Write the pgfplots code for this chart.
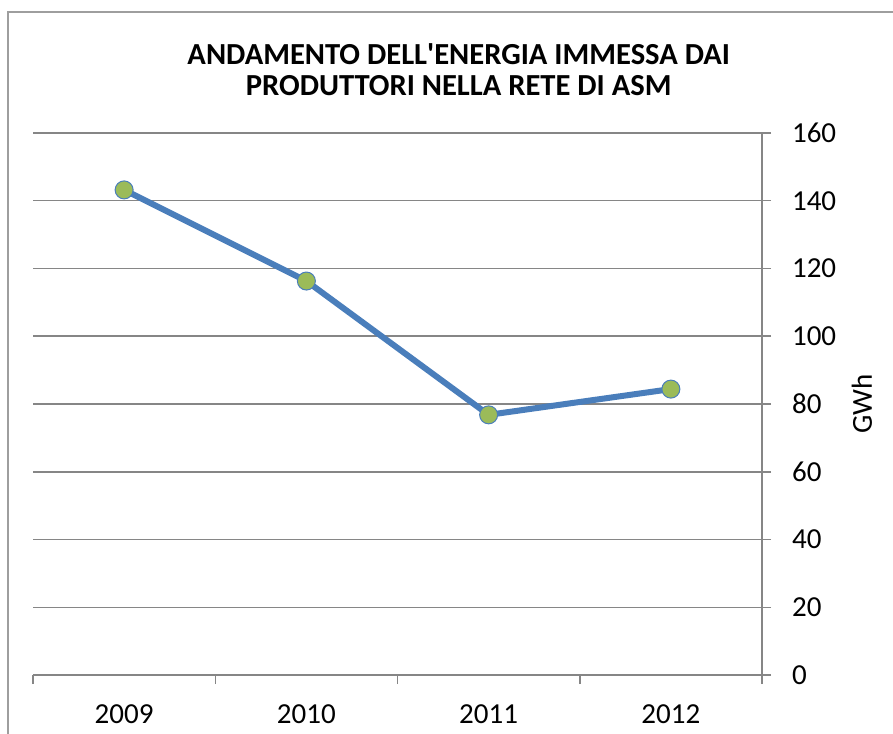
\documentclass[border=0pt]{standalone}
\usepackage{pgfplots}
\pgfplotsset{compat=1.18}
\usepackage{fontspec}
\setmainfont{Carlito}
\definecolor{lineblue}{HTML}{4A7EBB}
\definecolor{dotgreen}{HTML}{9BBB59}
\definecolor{gridgray}{HTML}{868686}
\begin{document}
\begin{tikzpicture}[x=0.5pt,y=0.5pt]
  \clip (0,0) rectangle (893,733);
  \draw[gridgray!80, line width=0.6pt] (8,-20) rectangle (920,721);
  \begin{axis}[
      at={(16.5pt,29pt)}, anchor=south west,
      scale only axis,
      width=364.5pt, height=271pt,
      xmin=-0.5, xmax=3.5,
      ymin=0, ymax=160,
      ytick={0,20,...,160},
      xtick={-0.5,0.5,1.5,2.5,3.5},
      xticklabels={2009,2010,2011,2012},
      x tick label as interval,
      axis x line*=bottom,
      axis y line*=right,
      axis line style={gridgray, line width=0.75pt},
      tick align=outside,
      major tick length=4.5pt,
      tick style={gridgray, line width=0.75pt},
      ymajorgrids=true,
      grid style={gridgray, line width=0.75pt},
      /pgf/number format/assume math mode=true,
      tick label style={font=\fontsize{14.5}{16}\selectfont},
      yticklabel style={anchor=west, xshift=7pt},
      xticklabel style={yshift=-7pt},
      ylabel={GWh},
      every axis y label/.style={at={(rel axis cs:1.137,0.5)}, rotate=90, anchor=center, font=\fontsize{14.5}{16}\selectfont},
      title={ANDAMENTO DELL\textquotesingle ENERGIA IMMESSA DAI\\PRODUTTORI NELLA RETE DI ASM},
      title style={at={(rel axis cs:0.584,1.094)}, anchor=center, align=center, font=\bfseries\fontsize{15.3}{15.5}\selectfont},
      clip=false,
    ]
    \addplot[lineblue, line width=3pt, mark=*, mark size=4.5pt,
      mark options={fill=dotgreen, draw=lineblue, line width=0.5pt}]
      coordinates {(0,143.2) (1,116.3) (2,76.8) (3,84.4)};
  \end{axis}
\end{tikzpicture}
\end{document}
